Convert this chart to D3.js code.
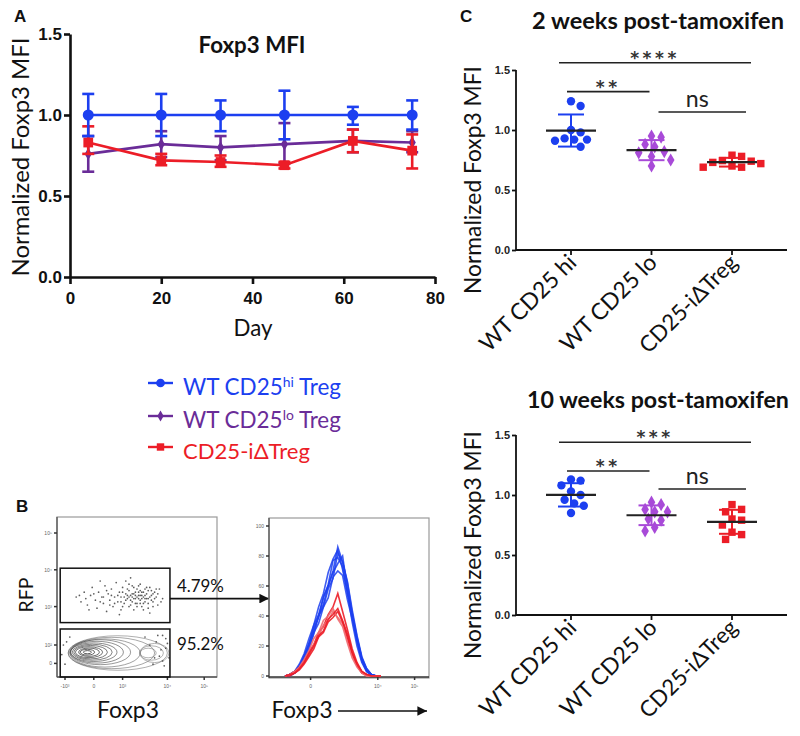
<!DOCTYPE html>
<html><head><meta charset="utf-8">
<script src="https://cdn.jsdelivr.net/npm/d3@7"></script>
<style>body{margin:0;background:#fff} svg{display:block}</style>
</head><body><svg id="c" width="800" height="736"></svg>
<script>
// ================= DATA =================
// Panel A: Foxp3 MFI over time
const days = [4, 20, 33, 47, 62, 75];
const hiMean = [1.00, 1.00, 1.00, 1.00, 1.00, 1.00];
const hiLow  = [0.87, 0.87, 0.90, 0.85, 0.94, 0.91];
const hiHigh = [1.13, 1.13, 1.09, 1.15, 1.05, 1.09];
const loMean = [0.76, 0.82, 0.80, 0.82, 0.84, 0.83];
const loLow  = [0.65, 0.74, 0.72, 0.70, 0.77, 0.77];
const loHigh = [0.87, 0.90, 0.87, 0.95, 0.91, 0.90];
const koMean = [0.83, 0.72, 0.71, 0.69, 0.84, 0.78];
const koLow  = [0.76, 0.69, 0.68, 0.67, 0.77, 0.67];
const koHigh = [0.93, 0.76, 0.75, 0.71, 0.91, 0.88];
const dayTicks = [0, 20, 40, 60, 80];
const mfiTicks = [0, 0.5, 1.0, 1.5];

// Legend
const legendMain = ["WT CD25", "WT CD25", "CD25-iΔTreg"];
const legendSup  = ["hi", "lo", ""];
const legendTail = [" Treg", " Treg", ""];

// Panel C: scatter dot plots
const groups = ["WT CD25 hi", "WT CD25 lo", "CD25-iΔTreg"];
const wk2Hi = [1.24, 1.20, 1.00, 0.98, 0.93, 0.92, 0.92, 0.91, 0.86];
const wk2Lo = [0.95, 0.94, 0.88, 0.86, 0.82, 0.81, 0.78, 0.75, 0.70];
const wk2Ko = [0.79, 0.78, 0.745, 0.74, 0.73, 0.72, 0.70, 0.69, 0.69];
const wk10Hi = [1.13, 1.12, 1.08, 1.03, 1.00, 0.96, 0.93, 0.91, 0.85];
const wk10Lo = [0.94, 0.92, 0.88, 0.86, 0.86, 0.80, 0.79, 0.73, 0.70];
const wk10Ko = [0.92, 0.88, 0.86, 0.80, 0.79, 0.75, 0.69, 0.67, 0.63];
const wk2Sig  = [{a:0, b:2, label:"****", y:1.56}, {a:0, b:1, label:"**", y:1.32}, {a:1, b:2, label:"ns", y:1.15}];
const wk10Sig = [{a:0, b:2, label:"***", y:1.44}, {a:0, b:1, label:"**", y:1.20}, {a:1, b:2, label:"ns", y:1.05}];

// Panel B: flow cytometry (arbitrary display units 0-100)
const gateTop = [2, 70.6, 34, 68];     // x0, x1, y0, y1
const gateBottom = [2, 70.6, 0, 30];
const gateLabels = ["4.79%", "95.2%"];
const rfpDots = [[12,50],[15,47],[17,53],[19,45],[21,51],[22,56],[24,48],[25,43],[26,53],[28,50],[29,46],[30,57],[31,41],[32,52],[33,48],[34,55],[35,44],[36,50],[37,59],[38,47],[39,53],[40,42],[40,50],[41,56],[42,46],[43,52],[43,60],[44,49],[45,44],[45,54],[46,51],[47,47],[47,57],[48,52],[48,42],[49,49],[50,55],[50,46],[51,51],[52,48],[52,58],[53,53],[53,44],[54,50],[55,47],[55,55],[56,52],[57,49],[57,43],[58,56],[59,51],[60,47],[61,53],[62,50],[63,45],[64,55],[46,62],[39,39],[27,60],[58,40],[20,42],[66,49],[49,53],[51,49],[46,48],[54,53],[44,51],[52,51],
  [42,50],[43,48],[45,50],[47,52],[48,49],[49,51],[50,50],[51,53],[53,49],[54,46],[55,51],[56,49],[57,54],[58,50],[59,48],[60,52],[44,55],[46,45],[48,56],[50,44],[52,54],[53,51],[55,49],[56,56],[57,46],[59,54],[61,49],[62,55],[38,51],[40,47],[41,53],[36,46],[34,51],[33,45],[31,54],[29,50],[27,47],[23,52],[18,49],[14,51],[63,52],[65,47],[60,44],[45,58],[51,57],[54,42],[41,44],[49,46],[47,50],[52,46]];
const negDots = [[62,22],[66,10],[68,18],[5,8],[64,13],[69,21],[8,25],[55,25],[67,7],[60,8],[63,26],[4,20],[65,17],[61,12],[68,24],[58,20],[3,14],[6,22],[70,12],[66,26]];
const contourRings = [[19,15.5,2.5,1],[19,15.5,4.5,1.8],[20,15.5,6.5,2.6],[20,15.5,8.5,3.4],[21,15.5,10.5,4.2],[22,15.5,12.5,5],[23,15.5,14.5,5.8],[25,15.5,16.5,6.8],[27,15.5,19,7.8],[30,15,22,8.8],[34,15,27,9.8],[38,15,31,10.8],[57,15,5,3],[59,15,7.5,4.5],[61,15,9,6]];
const flowYTicks = [[90,"10⁵"],[67,"10⁴"],[44,"10³"],[20,"10²"],[8.5,"0"]];
const flowXTicks = [[5,"-10³"],[23,"0"],[41,"10³"],[69,"10⁴"],[92,"10⁵"]];
const histX = [10,13,16,19,22,25,28,31,34,37,40,43,46,49,52,55,58,61,64,67,70];
const histBlue = [
  [0,1,3,7,13,22,30,40,48,60,70,86,76,62,42,26,12,4,1,0,0],
  [0,1,2,6,14,21,34,41,52,61,77,79,73,55,41,24,11,4,1,0,0],
  [0,0,2,5,10,18,29,35,46,52,66,70,67,51,38,23,10,3,1,0,0],
  [0,1,3,8,15,25,34,46,55,69,78,84,71,56,36,20,9,3,0,0,0],
  [0,1,3,6,12,21,32,39,53,60,69,75,80,58,40,25,12,5,1,0,0],
  [0,1,2,5,11,19,28,40,46,58,65,82,76,63,44,27,13,5,1,0,0]
];
const histRed = [
  [0,1,3,6,10,16,21,29,33,41,46,55,43,31,18,9,3,1,0,0,0],
  [0,1,2,5,9,14,21,26,34,37,43,39,35,24,14,7,2,0,0,0,0],
  [0,0,2,4,8,13,18,26,29,36,39,43,36,26,15,7,2,1,0,0,0],
  [0,1,3,6,11,17,25,29,37,40,45,38,33,22,12,6,2,0,0,0,0],
  [0,1,2,5,9,15,20,27,30,38,41,45,37,28,16,8,3,1,0,0,0]
];
const histYTicks = [0, 20, 40, 60, 80, 100];
const histXTicks = [[26,"0"],[68,"10⁴"],[91,"10⁵"]];

// ================= STYLE =================
const BLUE = "#1c3ff0", PURPLE_A = "#6a2c98", PURPLE_C = "#a84ad8", RED = "#ec1d27";
const SANS = "Lato, 'Open Sans', sans-serif";
const BOLDNUM = "'Liberation Sans', Arial, sans-serif";

const svg = d3.select("#c");
svg.append("rect").attr("width", 800).attr("height", 736).attr("fill", "#fff");

function fit(sel, w) {
  sel.each(function () {
    this.setAttribute("font-size", 20);
    const L = this.getComputedTextLength();
    this.setAttribute("font-size", 20 * w / L);
  });
  return sel;
}
function label(g, txt, x, y, opts = {}) {
  const t = g.append("text").attr("x", x).attr("y", y).text(txt)
    .attr("font-family", opts.family || SANS)
    .attr("font-weight", opts.weight || "normal")
    .attr("fill", opts.fill || "#111")
    .attr("text-anchor", opts.anchor || "middle");
  if (opts.rotate) t.attr("transform", `rotate(${opts.rotate},${x},${y})`);
  if (opts.width) fit(t, opts.width); else t.attr("font-size", opts.size || 16);
  return t;
}

// Panel letters
label(svg, "A", 14, 22, {family: BOLDNUM, weight: "bold", size: 17, anchor: "start"});
label(svg, "C", 460, 22, {family: BOLDNUM, weight: "bold", size: 17, anchor: "start"});
label(svg, "B", 16, 512, {family: BOLDNUM, weight: "bold", size: 17, anchor: "start"});

// ================= PANEL A =================
const xA = d3.scaleLinear().domain([0, 80]).range([70, 435]);
const yA = d3.scaleLinear().domain([0, 1.5]).range([277, 34]);
const gA = svg.append("g");

const axL = gA.append("g").attr("transform", `translate(${xA(0)},0)`)
  .call(d3.axisLeft(yA).tickValues(mfiTicks).tickFormat(d3.format(".1f")).tickSize(6).tickSizeOuter(0).tickPadding(2));
const axB = gA.append("g").attr("transform", `translate(0,${yA(0)})`)
  .call(d3.axisBottom(xA).tickValues(dayTicks).tickSize(7).tickSizeOuter(0).tickPadding(8));
[axL, axB].forEach(a => {
  a.selectAll("path,line").attr("stroke", "#111").attr("stroke-width", 2.6);
  a.selectAll("text").attr("font-family", BOLDNUM).attr("font-weight", "bold").attr("font-size", 17).attr("fill", "#111");
});

const seriesA = [
  {mean: loMean, low: loLow, high: loHigh, color: PURPLE_A, sym: d3.symbolDiamond, size: 45},
  {mean: koMean, low: koLow, high: koHigh, color: RED, sym: d3.symbolSquare, size: 95},
  {mean: hiMean, low: hiLow, high: hiHigh, color: BLUE, sym: d3.symbolCircle, size: 95}
];
const lineA = d3.line().x((d, i) => xA(days[i])).y(d => yA(d));
seriesA.forEach(s => {
  const g = gA.append("g");
  g.append("path").attr("d", lineA(s.mean)).attr("fill", "none").attr("stroke", s.color).attr("stroke-width", 2.6);
  days.forEach((d, i) => {
    const x = xA(d);
    g.append("line").attr("x1", x).attr("x2", x).attr("y1", yA(s.low[i])).attr("y2", yA(s.high[i]))
      .attr("stroke", s.color).attr("stroke-width", 2.6);
    [s.low[i], s.high[i]].forEach(v => g.append("line").attr("x1", x - 6).attr("x2", x + 6)
      .attr("y1", yA(v)).attr("y2", yA(v)).attr("stroke", s.color).attr("stroke-width", 2.6));
    g.append("path").attr("d", d3.symbol().type(s.sym).size(s.size)())
      .attr("transform", `translate(${x},${yA(s.mean[i])})`).attr("fill", s.color);
  });
});

label(gA, "Foxp3 MFI", 252, 53, {weight: "bold", width: 107});
label(gA, "Normalized Foxp3 MFI", 29, 157, {rotate: -90, width: 239});
label(gA, "Day", 253, 336, {width: 39});

// Legend
const legendColors = [BLUE, PURPLE_A, RED];
const legendSyms = [[d3.symbolCircle, 60], [d3.symbolDiamond, 35], [d3.symbolSquare, 55]];
const legendY = [383, 416, 447];
const legendW = [158, 158, 127];
legendMain.forEach((m, i) => {
  const y = legendY[i];
  svg.append("line").attr("x1", 148).attr("x2", 173).attr("y1", y).attr("y2", y)
    .attr("stroke", legendColors[i]).attr("stroke-width", 2.4);
  svg.append("path").attr("d", d3.symbol().type(legendSyms[i][0]).size(legendSyms[i][1])())
    .attr("transform", `translate(160.5,${y})`).attr("fill", legendColors[i]);
  const t = svg.append("text").attr("x", 183).attr("y", y + 12).attr("font-family", SANS)
    .attr("fill", legendColors[i]);
  t.append("tspan").text(m);
  if (legendSup[i]) {
    t.append("tspan").text(legendSup[i]).attr("font-size", "0.62em").attr("dy", "-0.6em");
    t.append("tspan").text(legendTail[i]).attr("dy", "0.37em");
  }
  fit(t, legendW[i]);
});

// ================= PANEL C =================
const xC = d3.scalePoint().domain(groups).range([571, 732]);
const groupColors = [BLUE, PURPLE_C, RED];
const groupSyms = [[d3.symbolCircle, 55], [d3.symbolDiamond, 50], [d3.symbolSquare, 55]];
const bracketPad = {"0-2": [-12, 19], "0-1": [-4, -2], "1-2": [7, 14]};

function swarm(values, cx, y, step, minD) {
  const pts = values.map(v => ({v, y: y(v)})).sort((a, b) => a.y - b.y);
  const placed = [];
  pts.forEach(p => {
    for (let k = 0; k < 40; k++) {
      const cands = k === 0 ? [0] : [k * step, -k * step];
      let ok = null;
      for (const off of cands) {
        if (placed.every(q => (q.x - (cx + off)) ** 2 + (q.y - p.y) ** 2 >= minD * minD)) { ok = off; break; }
      }
      if (ok !== null) { p.x = cx + ok; placed.push(p); break; }
    }
  });
  return placed;
}

function dotPlot(top, bottom, data, sig, title, titleW, titleBase) {
  const y = d3.scaleLinear().domain([0, 1.5]).range([bottom, top]);
  const g = svg.append("g");
  const ax = g.append("g").attr("transform", `translate(516,0)`)
    .call(d3.axisLeft(y).tickValues(mfiTicks).tickFormat(d3.format(".1f")).tickSize(4).tickSizeOuter(0).tickPadding(2));
  ax.select(".domain").attr("d", `M0,${y(1.5)}V${y(0)}`);
  g.append("line").attr("x1", 516).attr("x2", 787).attr("y1", y(0)).attr("y2", y(0))
    .attr("stroke", "#111").attr("stroke-width", 1.8);
  groups.forEach(gr => g.append("line").attr("x1", xC(gr)).attr("x2", xC(gr))
    .attr("y1", y(0)).attr("y2", y(0) + 5).attr("stroke", "#111").attr("stroke-width", 1.8));
  ax.selectAll("path,line").attr("stroke", "#111").attr("stroke-width", 1.8);
  ax.selectAll("text").attr("font-family", BOLDNUM).attr("font-weight", "bold").attr("font-size", 11).attr("fill", "#222");

  data.forEach((vals, gi) => {
    const cx = xC(groups[gi]);
    const pts = swarm(vals, cx, y, 3.2, 9);
    pts.forEach(p => g.append("path").attr("d", d3.symbol().type(groupSyms[gi][0]).size(groupSyms[gi][1])())
      .attr("transform", `translate(${p.x},${p.y})`).attr("fill", groupColors[gi]));
    const m = d3.mean(vals), sd = d3.deviation(vals);
    g.append("line").attr("x1", cx).attr("x2", cx).attr("y1", y(m - sd)).attr("y2", y(m + sd))
      .attr("stroke", groupColors[gi]).attr("stroke-width", 2);
    [m - sd, m + sd].forEach(v => g.append("line").attr("x1", cx - 13).attr("x2", cx + 13)
      .attr("y1", y(v)).attr("y2", y(v)).attr("stroke", groupColors[gi]).attr("stroke-width", 2));
    g.append("line").attr("x1", cx - 25).attr("x2", cx + 25).attr("y1", y(m)).attr("y2", y(m))
      .attr("stroke", "#222").attr("stroke-width", 2.2);
  });

  sig.forEach(s => {
    const pad = bracketPad[`${s.a}-${s.b}`];
    const x1 = xC(groups[s.a]) + pad[0], x2 = xC(groups[s.b]) + pad[1], yy = y(s.y);
    g.append("line").attr("x1", x1).attr("x2", x2).attr("y1", yy).attr("y2", yy)
      .attr("stroke", "#222").attr("stroke-width", 1.6);
    const cx = (x1 + x2) / 2;
    if (s.label === "ns") {
      label(g, "ns", cx - 5, yy - 5, {width: 23, fill: "#222"});
    } else {
      g.append("text").attr("x", cx).attr("y", yy + 1).text(s.label)
        .attr("font-family", "'DejaVu Sans', sans-serif").attr("font-weight", "bold").attr("font-size", 17).attr("fill", "#333")
        .attr("text-anchor", "middle").attr("letter-spacing", 3.5);
    }
  });

  groups.forEach(gr => {
    const x = xC(gr) + 7, yy = y(0) + 14;
    const t = g.append("text").attr("x", x).attr("y", yy).text(gr)
      .attr("font-family", SANS).attr("fill", "#111").attr("text-anchor", "end")
      .attr("transform", `rotate(-45,${x},${yy})`);
    fit(t, gr === "CD25-iΔTreg" ? 128 : 126);
  });

  label(g, title, 658, titleBase, {weight: "bold", width: titleW});
  label(g, "Normalized Foxp3 MFI", 481, (top + bottom) / 2 + 20, {rotate: -90, width: 228});
}
dotPlot(70, 250, [wk2Hi, wk2Lo, wk2Ko], wk2Sig, "2 weeks post-tamoxifen", 252, 29);
dotPlot(435, 615, [wk10Hi, wk10Lo, wk10Ko], wk10Sig, "10 weeks post-tamoxifen", 262, 408);

// ================= PANEL B =================
const fx = d3.scaleLinear().domain([0, 100]).range([57, 217]);
const fy = d3.scaleLinear().domain([0, 100]).range([677, 517]);
const gB = svg.append("g");
gB.append("rect").attr("x", fx(0)).attr("y", fy(100)).attr("width", fx(100) - fx(0)).attr("height", fy(0) - fy(100))
  .attr("fill", "none").attr("stroke", "#9a9a9a").attr("stroke-width", 1.2);
gB.append("line").attr("x1", fx(0)).attr("x2", fx(0)).attr("y1", fy(0)).attr("y2", fy(100)).attr("stroke", "#555").attr("stroke-width", 1.3);
gB.append("line").attr("x1", fx(0)).attr("x2", fx(100)).attr("y1", fy(0)).attr("y2", fy(0)).attr("stroke", "#555").attr("stroke-width", 1.3);
flowYTicks.forEach(([v, t]) => {
  gB.append("line").attr("x1", fx(0) - 3).attr("x2", fx(0)).attr("y1", fy(v)).attr("y2", fy(v)).attr("stroke", "#333").attr("stroke-width", 1.5);
  gB.append("text").attr("x", fx(0) - 5).attr("y", fy(v) + 2).text(t).attr("font-size", 5).attr("fill", "#666")
    .attr("font-family", BOLDNUM).attr("text-anchor", "end");
});
flowXTicks.forEach(([v, t]) => {
  gB.append("line").attr("x1", fx(v)).attr("x2", fx(v)).attr("y1", fy(0)).attr("y2", fy(0) + 3).attr("stroke", "#333").attr("stroke-width", 1.5);
  gB.append("text").attr("x", fx(v)).attr("y", fy(0) + 11).text(t).attr("font-size", 5).attr("fill", "#666")
    .attr("font-family", BOLDNUM).attr("text-anchor", "middle");
});
// contours
contourRings.forEach((r, i) => {
  gB.append("ellipse").attr("cx", fx(r[0])).attr("cy", fy(r[1]))
    .attr("rx", fx(r[2]) - fx(0)).attr("ry", fy(0) - fy(r[3]))
    .attr("fill", "none").attr("stroke", i < 12 ? "#333" : "#777").attr("stroke-width", 0.8)
    .attr("stroke-opacity", i < 12 ? 0.45 + 0.045 * (12 - i) : 0.7);
});
rfpDots.concat(negDots).forEach(([a, b]) => gB.append("circle").attr("cx", fx(a)).attr("cy", fy(b)).attr("r", 0.85).attr("fill", "#333").attr("fill-opacity", 0.8));
[gateTop, gateBottom].forEach((gt, i) => {
  gB.append("rect").attr("x", fx(gt[0])).attr("y", fy(gt[3])).attr("width", fx(gt[1]) - fx(gt[0])).attr("height", fy(gt[2]) - fy(gt[3]))
    .attr("fill", "none").attr("stroke", "#111").attr("stroke-width", 1.5);
  label(gB, gateLabels[i], fx(gt[1]) + 7, fy((gt[2] + gt[3]) / 2) - 3, {anchor: "start", width: 47});
});
label(gB, "RFP", 33, 595, {rotate: -90, width: 35});
label(gB, "Foxp3", 128, 718, {width: 62});

// arrow gate -> histogram
const defs = svg.append("defs");
defs.append("marker").attr("id", "ah").attr("viewBox", "0 0 10 10").attr("refX", 10).attr("refY", 5)
  .attr("markerWidth", 6).attr("markerHeight", 6).attr("orient", "auto")
  .append("path").attr("d", "M0,0L10,5L0,10Z").attr("fill", "#111");
gB.append("line").attr("x1", fx(gateTop[1])).attr("x2", 269).attr("y1", fy(49)).attr("y2", fy(49))
  .attr("stroke", "#111").attr("stroke-width", 1.6).attr("marker-end", "url(#ah)");

// histogram
const hx = d3.scaleLinear().domain([0, 100]).range([269, 429]);
const hy = d3.scaleLinear().domain([0, 100]).range([676, 526]);
gB.append("rect").attr("x", 269).attr("y", 518).attr("width", 160).attr("height", 160)
  .attr("fill", "none").attr("stroke", "#9a9a9a").attr("stroke-width", 1.2);
gB.append("line").attr("x1", 269).attr("x2", 269).attr("y1", 518).attr("y2", 678).attr("stroke", "#555").attr("stroke-width", 1.3);
gB.append("line").attr("x1", 269).attr("x2", 429).attr("y1", 677).attr("y2", 677).attr("stroke", "#333").attr("stroke-width", 1.6);
histYTicks.forEach(v => {
  gB.append("line").attr("x1", 266).attr("x2", 269).attr("y1", hy(v)).attr("y2", hy(v)).attr("stroke", "#333").attr("stroke-width", 1.5);
  gB.append("text").attr("x", 264).attr("y", hy(v) + 2).text(v).attr("font-size", 5).attr("fill", "#666")
    .attr("font-family", BOLDNUM).attr("text-anchor", "end");
});
histXTicks.forEach(([v, t]) => {
  gB.append("line").attr("x1", hx(v)).attr("x2", hx(v)).attr("y1", 677).attr("y2", 680).attr("stroke", "#333").attr("stroke-width", 1.5);
  gB.append("text").attr("x", hx(v)).attr("y", 688).text(t).attr("font-size", 5).attr("fill", "#666")
    .attr("font-family", BOLDNUM).attr("text-anchor", "middle");
});
const hLine = d3.line().x((d, i) => hx(histX[i])).y(d => hy(d));
histBlue.forEach((c, i) => gB.append("path").attr("d", hLine(c)).attr("fill", "none")
  .attr("stroke", BLUE).attr("stroke-width", 1.6).attr("stroke-opacity", 0.85));
histRed.forEach((c, i) => gB.append("path").attr("d", hLine(c)).attr("fill", "none")
  .attr("stroke", i % 2 ? "#f06a70" : RED).attr("stroke-width", 1.6).attr("stroke-opacity", 0.9));
label(gB, "Foxp3", 302, 718, {width: 61});
gB.append("line").attr("x1", 338).attr("x2", 427).attr("y1", 711).attr("y2", 711)
  .attr("stroke", "#111").attr("stroke-width", 1.6).attr("marker-end", "url(#ah)");
</script></body></html>
